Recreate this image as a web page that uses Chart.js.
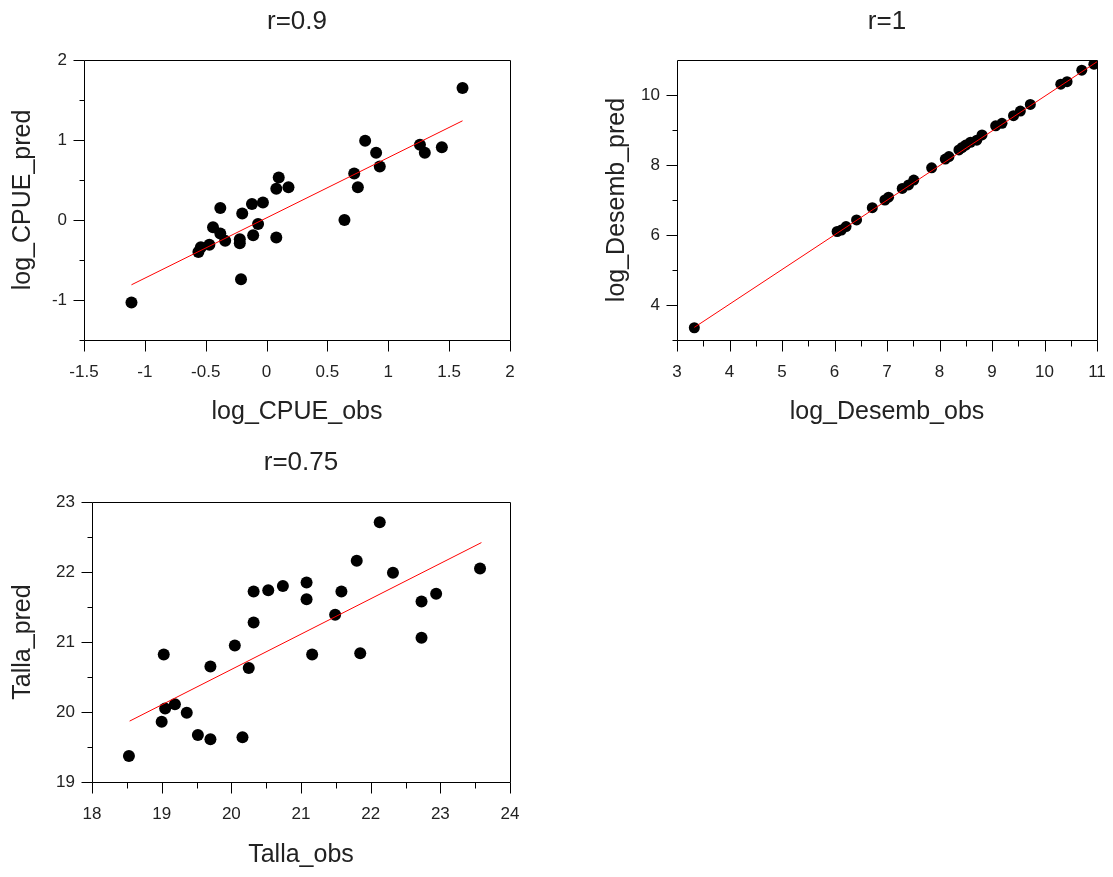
<!DOCTYPE html>
<html>
<head>
<meta charset="utf-8">
<script src="https://cdn.jsdelivr.net/npm/chart.js@4.4.1/dist/chart.umd.min.js"></script>
<style>
body { margin: 0; background: #fff; width: 1113px; height: 877px; position: relative; overflow: hidden; }
canvas { position: absolute; }
</style>
</head>
<body>
<canvas id="cpue" width="530" height="440" style="left:0;top:0"></canvas>
<canvas id="desemb" width="519" height="440" style="left:594px;top:0"></canvas>
<canvas id="talla" width="530" height="437" style="left:0;top:440px"></canvas>
<script>
// log_CPUE panel
const cpueObs = [-1.11, 1.61, 0.81, 0.90, 0.93, 1.26, 1.30, 1.44, 0.72, 0.75, 0.64, 0.10, 0.08, 0.18, 0.08,
    -0.03, -0.12, -0.20, -0.07, -0.11, -0.38, -0.44, -0.38, -0.34, -0.22, -0.22, -0.21, -0.47, -0.54, -0.56];
const cpuePred = [-1.03, 1.65, 0.99, 0.84, 0.67, 0.94, 0.84, 0.91, 0.58, 0.41, 0.00, 0.53, 0.39, 0.41, -0.22,
    0.22, 0.20, 0.08, -0.05, -0.19, 0.15, -0.09, -0.17, -0.26, -0.24, -0.29, -0.74, -0.31, -0.34, -0.40];
const cpueFitX = [-1.11, 1.61];
const cpueFitY = [-0.81, 1.24];
const cpueXTicks = [-1.5, -1, -0.5, 0, 0.5, 1, 1.5, 2];
const cpueYTicks = [-1, 0, 1, 2];
const cpueYMinor = [-1.5, -0.5, 0.5, 1.5];

// log_Desemb panel
const desembObs = [3.33, 6.05, 6.13, 6.22, 6.42, 6.72, 6.96, 7.03, 7.29, 7.41, 7.51, 7.85, 8.11, 8.18, 8.37,
    8.43, 8.50, 8.59, 8.71, 8.81, 9.07, 9.19, 9.41, 9.54, 9.73, 10.31, 10.43, 10.71, 10.94];
const desembPred = [3.35, 6.10, 6.14, 6.24, 6.43, 6.78, 7.00, 7.08, 7.33, 7.43, 7.57, 7.92, 8.17, 8.24, 8.43,
    8.50, 8.57, 8.65, 8.71, 8.86, 9.12, 9.19, 9.41, 9.54, 9.73, 10.31, 10.38, 10.71, 10.88];
const desembFitX = [3.33, 11];
const desembFitY = [3.36, 10.95];
const desembXTicks = [3, 4, 5, 6, 7, 8, 9, 10, 11];
const desembXMinor = [3.5, 4.5, 5.5, 6.5, 7.5, 8.5, 9.5, 10.5];
const desembYTicks = [4, 6, 8, 10];
const desembYMinor = [3, 5, 7, 9];

// Talla panel
const tallaObs = [18.53, 19.03, 19.00, 19.05, 19.19, 19.36, 19.70, 19.52, 19.70, 20.05, 20.25, 20.16, 20.32, 20.32,
    20.53, 20.74, 21.08, 21.08, 21.16, 21.49, 21.58, 21.80, 21.85, 22.13, 22.32, 22.73, 22.73, 22.94, 23.57];
const tallaPred = [19.37, 20.82, 19.86, 20.05, 20.11, 19.99, 20.65, 19.67, 19.61, 20.95, 20.63, 19.64, 21.28, 21.72,
    21.74, 21.80, 21.85, 21.61, 20.82, 21.39, 21.72, 22.16, 20.84, 22.71, 21.99, 21.58, 21.06, 21.69, 22.05];
const tallaFitX = [18.54, 23.59];
const tallaFitY = [19.87, 22.42];
const tallaXTicks = [18, 19, 20, 21, 22, 23, 24];
const tallaXMinor = [18.5, 19.5, 20.5, 21.5, 22.5, 23.5];
const tallaYTicks = [19, 20, 21, 22, 23];
const tallaYMinor = [19.5, 20.5, 21.5, 22.5];

const FONT = '"Liberation Sans", Arial, sans-serif';
const INK = '#222';
Chart.defaults.font.family = FONT;
Chart.defaults.color = INK;

// box round the plot area plus outward tick marks, scilab style
const frameTicks = {
    id: 'frameTicks',
    afterDraw(chart, args, opts) {
        const { ctx, chartArea: a, scales } = chart;
        const sx = scales.x, sy = scales.y;
        ctx.save();
        ctx.strokeStyle = '#000';
        ctx.lineWidth = 1;
        ctx.beginPath();
        const L = Math.round(a.left) + 0.5, R = Math.round(a.right) + 0.5,
            T = Math.round(a.top) + 0.5, B = Math.round(a.bottom) + 0.5;
        ctx.rect(L, T, R - L, B - T);
        const xt = (list, len) => list.forEach(v => {
            const px = Math.round(sx.getPixelForValue(v)) + 0.5;
            ctx.moveTo(px, B);
            ctx.lineTo(px, B + len);
        });
        const yt = (list, len) => list.forEach(v => {
            const py = Math.round(sy.getPixelForValue(v)) + 0.5;
            ctx.moveTo(L, py);
            ctx.lineTo(L - len, py);
        });
        xt(opts.xMajor || [], 11);
        xt(opts.xMinor || [], 6);
        yt(opts.yMajor || [], 11);
        yt(opts.yMinor || [], 5);
        ctx.stroke();
        ctx.restore();
    }
};

function makePanel(id, p) {
    const pts = p.obs.map((v, i) => ({ x: v, y: p.pred[i] }));
    const fit = p.fitX.map((v, i) => ({ x: v, y: p.fitY[i] }));
    return new Chart(document.getElementById(id), {
        type: 'scatter',
        data: {
            datasets: [{
                type: 'line',
                data: fit,
                borderColor: '#ff0000',
                borderWidth: 1,
                pointRadius: 0,
                fill: false,
                order: 0
            }, {
                data: pts,
                backgroundColor: '#000',
                borderColor: '#000',
                borderWidth: 0,
                pointRadius: p.radius,
                order: 1
            }]
        },
        plugins: [frameTicks],
        options: {
            responsive: false,
            animation: false,
            devicePixelRatio: 1,
            layout: { padding: { left: 0, top: 0, right: p.padRight, bottom: 0 } },
            scales: {
                x: {
                    type: 'linear',
                    min: p.xMin,
                    max: p.xMax,
                    afterBuildTicks: s => { s.ticks = p.xTicks.map(v => ({ value: v })); },
                    afterFit: s => { s.height = p.xHeight; },
                    ticks: { padding: 2, font: { size: 17 }, color: INK, maxRotation: 0, autoSkip: false, callback: v => String(v) },
                    // tick marks are drawn by frameTicks; tickLength only keeps the label gap
                    grid: { display: false, drawTicks: true, tickLength: 20 },
                    border: { display: false },
                    title: { display: true, text: p.xTitle, color: INK, font: { size: 25, lineHeight: 1.2 }, padding: { top: 0, bottom: p.xTitlePad } }
                },
                y: {
                    type: 'linear',
                    min: p.yMin,
                    max: p.yMax,
                    afterBuildTicks: s => { s.ticks = p.yTicks.map(v => ({ value: v })); },
                    afterFit: s => { s.width = p.yWidth; },
                    ticks: { padding: 2, font: { size: 17 }, color: INK, autoSkip: false, callback: v => String(v) },
                    grid: { display: false, drawTicks: true, tickLength: 15 },
                    border: { display: false },
                    title: { display: true, text: p.yTitle, color: INK, font: { size: 25, lineHeight: 1.2 }, padding: { top: 8, bottom: 0 } }
                }
            },
            plugins: {
                legend: { display: false },
                tooltip: { enabled: false },
                title: {
                    display: true,
                    text: p.title,
                    fullSize: false,
                    color: INK,
                    font: { size: 26, weight: 'normal', lineHeight: 1.2 },
                    padding: { top: p.titleTop, bottom: p.titleBottom }
                },
                frameTicks: { xMajor: p.xTicks, xMinor: p.xMinor, yMajor: p.yTicks, yMinor: p.yMinor }
            }
        }
    });
}

makePanel('cpue', {
    obs: cpueObs, pred: cpuePred, fitX: cpueFitX, fitY: cpueFitY,
    xMin: -1.5, xMax: 2, yMin: -1.5, yMax: 2,
    xTicks: cpueXTicks, xMinor: [], yTicks: cpueYTicks, yMinor: cpueYMinor,
    xTitle: 'log_CPUE_obs', yTitle: 'log_CPUE_pred', title: 'r=0.9',
    radius: 6, padRight: 20, xHeight: 100, yWidth: 84, xTitlePad: 13, titleTop: 6, titleBottom: 22.8
});

makePanel('desemb', {
    obs: desembObs, pred: desembPred, fitX: desembFitX, fitY: desembFitY,
    xMin: 3, xMax: 11, yMin: 3, yMax: 11,
    xTicks: desembXTicks, xMinor: desembXMinor, yTicks: desembYTicks, yMinor: desembYMinor,
    xTitle: 'log_Desemb_obs', yTitle: 'log_Desemb_pred', title: 'r=1',
    radius: 5.5, padRight: 16, xHeight: 100, yWidth: 83, xTitlePad: 13, titleTop: 6, titleBottom: 22.8
});

makePanel('talla', {
    obs: tallaObs, pred: tallaPred, fitX: tallaFitX, fitY: tallaFitY,
    xMin: 18, xMax: 24, yMin: 19, yMax: 23,
    xTicks: tallaXTicks, xMinor: tallaXMinor, yTicks: tallaYTicks, yMinor: tallaYMinor,
    xTitle: 'Talla_obs', yTitle: 'Talla_pred', title: 'r=0.75',
    radius: 6, padRight: 20, xHeight: 95, yWidth: 92, xTitlePad: 7, titleTop: 7, titleBottom: 23.8
});
</script>
</body>
</html>
